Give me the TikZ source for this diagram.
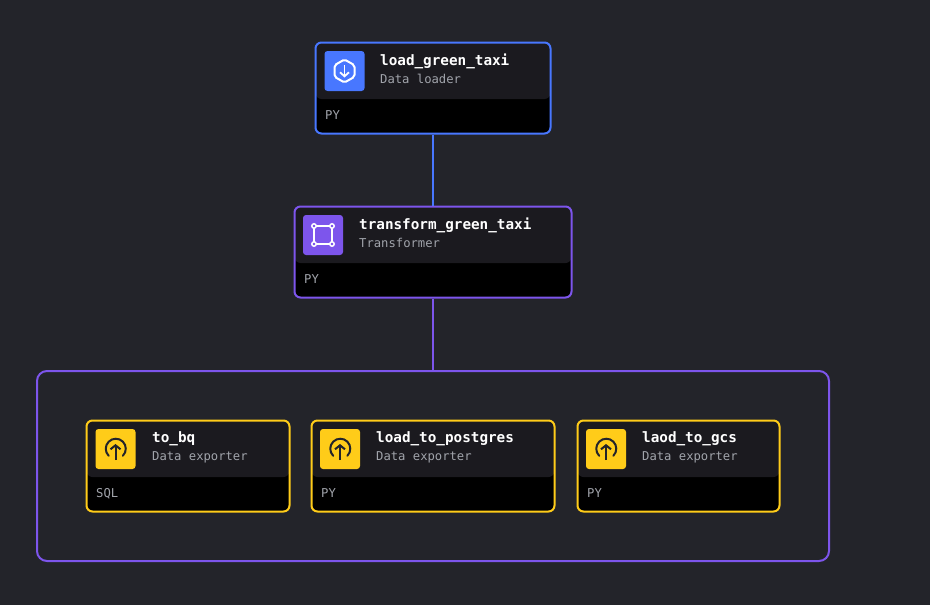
\documentclass[tikz,border=0pt]{standalone}
\usepackage{xcolor}
\usepackage{fontspec}
\setmainfont{DejaVu Sans Mono}
\usetikzlibrary{positioning,arrows.meta,shapes.geometric}

\definecolor{canvasbg}{HTML}{23242A}
\definecolor{headbg}{HTML}{1B1A1F}
\definecolor{blockblue}{HTML}{4877FF}
\definecolor{blockpurple}{HTML}{7D55EC}
\definecolor{blockyellow}{HTML}{FFCC19}
\definecolor{subgray}{HTML}{A1A4AB}

\tikzset{
    card/.style={draw=#1, line width=2pt, rounded corners=6pt, fill=black, inner sep=0pt, minimum height=91pt,
        path picture={\fill[headbg] (path picture bounding box.north west) rectangle ([yshift=-56.5pt]path picture bounding box.north east);}},
    iconbox/.style={fill=#1, rounded corners=3pt, inner sep=0pt, minimum size=40pt},
    titletext/.style={anchor=west, inner sep=0pt, text=white, font=\fontsize{14.3}{16}\selectfont\bfseries},
    subtext/.style={anchor=west, inner sep=0pt, text=subgray, font=\fontsize{12.2}{14}\selectfont},
    langtext/.style={anchor=west, inner sep=0pt, text=subgray, font=\fontsize{12.2}{14}\selectfont},
    loadicon/.pic={
        \draw[white, line width=2pt, rounded corners=2pt] (0,-11.5) -- (10,-5.8) -- (10,5.8) -- (0,11.5) -- (-10,5.8) -- (-10,-5.8) -- cycle;
        \draw[white, line width=1.8pt, -{Straight Barb[length=4pt,width=9pt]}] (0,-6) -- (0,6.5);
    },
    transformicon/.pic={
        \draw[white, line width=2pt] (-9,-9) rectangle (9,9);
        \foreach \cx/\cy in {-9/-9,9/-9,-9/9,9/9}
            \draw[white, line width=1.5pt, fill=blockpurple] (\cx,\cy) circle (2.2);
    },
    exporticon/.pic={
        \draw[canvasbg, line width=2pt, line cap=round] (-6.8,6.8) arc[start angle=135, end angle=405, radius=10];
        \draw[canvasbg, line width=2pt, -{Straight Barb[length=4pt,width=10pt]}] (0,11) -- (0,-5);
    }
}

\begin{document}
\begin{tikzpicture}[x=1pt, y=-1pt]
    % Canvas
    \fill[canvasbg] (0,0) rectangle (930,605);

    % Group frame
    \node[draw=blockpurple, line width=2pt, rounded corners=10pt, minimum width=792pt, minimum height=190pt] (exporters) at (433,466) {};

    % Blocks
    \node[card=blockblue, minimum width=235pt] (load) at (433,88) {};
    \node[card=blockpurple, minimum width=277pt] (transform) at (433,252) {};
    \node[card=blockyellow, minimum width=203pt] (tobq) at (188,466) {};
    \node[card=blockyellow, minimum width=243pt] (topostgres) at (433,466) {};
    \node[card=blockyellow, minimum width=202pt] (togcs) at (678.5,466) {};

    % Icons
    \node[iconbox=blockblue] (loadbox) at (344.5,71) {};
    \pic at (loadbox) {loadicon};
    \node[iconbox=blockpurple] (transformbox) at (323,235) {};
    \pic at (transformbox) {transformicon};
    \node[iconbox=blockyellow] (tobqbox) at (115.5,449) {};
    \pic at (tobqbox) {exporticon};
    \node[iconbox=blockyellow] (topostgresbox) at (340,449) {};
    \pic at (topostgresbox) {exporticon};
    \node[iconbox=blockyellow] (togcsbox) at (606,449) {};
    \pic at (togcsbox) {exporticon};

    % Texts
    \node[titletext] (loadname) at (380,61) {load\_green\_taxi};
    \node[subtext] (loadkind) at (380,79) {Data loader};
    \node[langtext] (loadlang) at (325,115.5) {PY};

    \node[titletext] (transformname) at (359,225) {transform\_green\_taxi};
    \node[subtext] (transformkind) at (359,243) {Transformer};
    \node[langtext] (transformlang) at (304,279.5) {PY};

    \node[titletext] (tobqname) at (152,439) {to\_bq};
    \node[subtext] (tobqkind) at (152,457) {Data exporter};
    \node[langtext] (tobqlang) at (96,493.5) {SQL};

    \node[titletext] (topostgresname) at (376,439) {load\_to\_postgres};
    \node[subtext] (topostgreskind) at (376,457) {Data exporter};
    \node[langtext] (topostgreslang) at (321,493.5) {PY};

    \node[titletext] (togcsname) at (642,439) {laod\_to\_gcs};
    \node[subtext] (togcskind) at (642,457) {Data exporter};
    \node[langtext] (togcslang) at (587,493.5) {PY};

    % Connectors
    \draw[blockblue, line width=2pt] (load) -- (transform);
    \draw[blockpurple, line width=2pt] (transform) -- (exporters);
\end{tikzpicture}
\end{document}
